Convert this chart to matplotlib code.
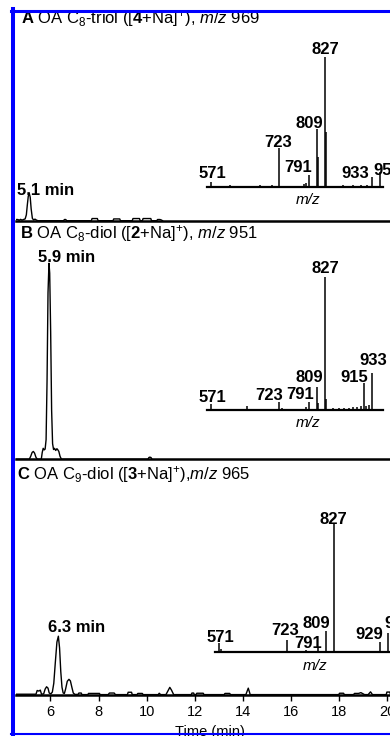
import matplotlib
matplotlib.use("Agg")
import matplotlib.pyplot as plt
from matplotlib.lines import Line2D

plt.rcParams['font.family'] = ['Liberation Sans', 'DejaVu Sans']
plt.rcParams['mathtext.fontset'] = 'custom'
plt.rcParams['mathtext.rm'] = 'Liberation Sans'
plt.rcParams['mathtext.it'] = 'Liberation Sans:italic'
plt.rcParams['mathtext.bf'] = 'Liberation Sans:bold'

# ── chromatograms (time in min, intensity relative to panel B peak = 100) ──
a_time = [4.57, 4.65, 4.70, 4.76, 4.82, 4.88, 4.95, 5.00, 5.04, 5.08, 5.12, 5.16, 5.20, 5.25,
          5.30, 5.36, 5.42, 5.48, 6.55, 6.58, 6.64, 6.67, 7.70, 7.73, 7.95, 7.98, 8.60, 8.63,
          8.88, 8.91, 9.40, 9.43, 9.70, 9.73, 9.82, 9.85, 10.17, 10.20, 10.42, 10.45, 10.55,
          10.60, 10.66]
a_int = [0.6, 0.6, 0.2, 0.7, 0.3, 0.6, 0.9, 3.0, 8.0, 12.5, 14.0, 12.0, 6.0, 1.2,
         0.4, 0.8, 0.3, 0.0, 0.0, 0.6, 0.6, 0.0, 0.0, 1.1, 1.1, 0.0, 0.0, 0.9,
         0.9, 0.0, 0.0, 1.1, 1.1, 0.0, 0.0, 1.1, 1.1, 0.0, 0.0, 0.6, 0.6,
         0.4, 0.0]

b_time = [4.57, 5.12, 5.18, 5.24, 5.29, 5.34, 5.40, 5.46, 5.62, 5.66, 5.70, 5.74, 5.78, 5.82,
          5.86, 5.90, 5.94, 5.97, 6.01, 6.05, 6.09, 6.13, 6.17, 6.22, 6.27, 6.31, 6.35, 6.40,
          6.46, 10.05, 10.09, 10.13, 10.18, 10.22]
b_int = [0, 0, 1.5, 3.5, 4.0, 3.2, 1.0, 0, 0, 3.5, 5.6, 4.8, 5.2, 10,
         40, 85, 100, 95, 65, 25, 8, 5.0, 5.6, 4.5, 5.4, 4.8, 4.0, 1.5,
         0, 0, 0.9, 1.1, 0.9, 0]

c_time = [4.57, 5.40, 5.45, 5.52, 5.58, 5.63, 5.72, 5.78, 5.84, 5.90, 5.95, 6.02, 6.08, 6.14,
          6.20, 6.27, 6.33, 6.38, 6.43, 6.48, 6.53, 6.58, 6.63, 6.70, 6.77, 6.83, 6.89, 6.95,
          7.02, 7.15, 7.18, 7.28, 7.31, 7.56, 7.58, 8.04, 8.06, 8.40, 8.45, 8.65, 8.70, 9.20,
          9.23, 9.37, 9.40, 9.60, 9.63, 9.82, 9.85, 10.48, 10.52, 10.58, 10.80, 10.90, 10.96,
          11.03, 11.12, 11.85, 11.88, 11.95, 11.98, 12.05, 12.08, 12.35, 12.38, 13.22, 13.25,
          13.45, 13.48, 14.12, 14.22, 14.30, 17.98, 18.01, 18.18, 18.21, 18.60, 18.63, 18.80,
          18.90, 19.05, 19.20, 19.30, 19.38, 19.95, 19.98, 20.10, 20.13, 20.69]
c_int = [0.4, 0.4, 2.3, 2.0, 2.5, 0.4, 0.6, 3.0, 4.2, 3.5, 1.0, 0.6, 1.5, 6,
         16, 27, 30, 24, 12, 4, 1.0, 0.8, 3, 7, 8, 7.2, 4, 1,
         0.3, 0.3, 1.0, 1.0, 0.2, 0.2, 0.8, 0.8, 0.2, 0.2, 1.0, 1.0, 0.2, 0.2,
         1.4, 1.4, 0.2, 0.2, 0.8, 0.8, 0.2, 0.2, 0.9, 0.2, 0.2, 2.5, 3.9,
         2.5, 0.2, 0.2, 1.0, 1.0, 0.2, 0.2, 0.9, 0.9, 0.2, 0.2, 0.8,
         0.8, 0.2, 0.2, 3.5, 0.2, 0.2, 0.9, 0.9, 0.2, 0.2, 0.8, 0.8,
         1.2, 0.2, 0.2, 1.6, 0.2, 0.2, 1.5, 1.5, 0.2, 0.2]

# ── MS/MS spectra (m/z, relative intensity %) ──
a_mz = [571, 614, 681, 707, 723, 780, 785, 791, 809, 812, 827, 829, 867, 890, 909, 921, 933, 951]
a_rel = [4, 1.5, 1.5, 1.5, 30, 2, 3, 9, 45, 23, 100, 42, 1.5, 1.5, 1.5, 1.5, 8, 11.5]
a_labels = [571, 723, 791, 809, 827, 933, 951]

b_mz = [571, 600, 625, 651, 700, 723, 730, 785, 791, 809, 812, 827, 829, 845, 858, 870,
        880, 890, 900, 908, 915, 920, 927, 933]
b_rel = [4.5, 1, 1, 3, 1, 6, 1.5, 2, 6, 17, 5, 100, 8, 1.5, 1.5, 1.5,
         1.5, 2, 2, 3, 20, 3, 4, 28]
b_labels = [571, 723, 791, 809, 827, 915, 933]

c_mz = [571, 574, 723, 765, 791, 809, 827, 929, 947]
c_rel = [7, 2, 9.4, 1.5, 3, 16.4, 100, 7.8, 15]
c_labels = [571, 723, 791, 809, 827, 929, 947]

titles = [r'$\mathbf{A}$ OA C$_8$-triol ([$\mathbf{4}$+Na]$^{+}$), $\mathit{m/z}$ 969',
          r'$\mathbf{B}$ OA C$_8$-diol ([$\mathbf{2}$+Na]$^{+}$), $\mathit{m/z}$ 951',
          r'$\mathbf{C}$ OA C$_9$-diol ([$\mathbf{3}$+Na]$^{+}$),$\mathit{m/z}$ 965']
rt_labels = ['5.1 min', '5.9 min', '6.3 min']
time_ticks = [6, 8, 10, 12, 14, 16, 18, 20]

# ── layout (pixels) ──
W, H = 390, 736
fig = plt.figure(figsize=(W / 100, H / 100), dpi=100)


def px_axes(left, top, right, bottom):
    return fig.add_axes([left / W, 1 - bottom / H, (right - left) / W, (bottom - top) / H])


chrom_boxes = [(16, 25, 404, 220.7), (16, 240, 404, 459.3), (16, 480, 404, 695)]
chrom_data = [(a_time, a_int), (b_time, b_int), (c_time, c_int)]
chrom_px_per_unit = 1.96
title_pos = [(21, 23), (20, 238), (17, 479)]
rt_text_pos = [(46, 195), (66.5, 262), (76.5, 632)]

spec_boxes = [(207, 40, 383, 187), (207, 260, 383, 410), (215, 505, 400, 651.7)]
spec_xlim = [(562, 957.5), (562, 957.5), (561.4, 974)]
spec_px_per_pct = [1.30, 1.33, 1.28]
spec_data = [(a_mz, a_rel, a_labels), (b_mz, b_rel, b_labels), (c_mz, c_rel, c_labels)]
label_offsets = [
    {571: (1.5, 4), 723: (-1, 1), 791: (-11, 3), 809: (-8, 1), 827: (0, 3), 933: (-17, -1), 951: (7, -3)},
    {571: (1, 2), 723: (-10, 2), 791: (-9, 3), 809: (-8, 5), 827: (0, 4), 915: (-10, 1), 933: (1, 8)},
    {571: (1, 1), 723: (-2, 5), 791: (-10, 0), 809: (-10, 3), 827: (-1, 0), 929: (-11, 3), 947: (10, 4)},
]
mz_label_x = [0.574, 0.574, 0.54]
mz_label_dy = [13, 12.7, 14]

bold = dict(fontsize=12, fontweight='bold')

for i in range(3):
    l, t, r, b = chrom_boxes[i]
    ax = px_axes(l, t, r, b)
    ax.set_facecolor('none')
    tt, yy = chrom_data[i]
    ax.plot(tt, yy, color='black', lw=1.0)
    ax.set_xlim(4.57, 20.69)
    ax.set_ylim(0, (b - t) / chrom_px_per_unit)
    for s in ['top', 'right', 'left']:
        ax.spines[s].set_visible(False)
    ax.spines['bottom'].set_linewidth(1.8)
    ax.set_yticks([])
    if i == 2:
        ax.set_xticks(time_ticks)
        ax.tick_params(axis='x', direction='out', length=4, width=1, pad=3, labelsize=10.5)
        ax.set_xlabel('Time (min)', fontsize=10.5, labelpad=4.5)
    else:
        ax.set_xticks([])
    tx, ty = rt_text_pos[i]
    fig.text(tx / W, 1 - ty / H, rt_labels[i], ha='center', va='baseline', **bold)
    px, py = title_pos[i]
    fig.text(px / W, 1 - py / H, titles[i], ha='left', va='baseline', fontsize=12)

for i in range(3):
    l, t, r, b = spec_boxes[i]
    ax = px_axes(l, t, r, b)
    ax.set_facecolor('none')
    mz, rel, labs = spec_data[i]
    ax.vlines(mz, 0, rel, color='black', lw=1.1)
    ax.set_xlim(*spec_xlim[i])
    ax.set_ylim(0, (b - t) / spec_px_per_pct[i])
    for s in ['top', 'right', 'left']:
        ax.spines[s].set_visible(False)
    ax.spines['bottom'].set_linewidth(1.6)
    ax.set_xticks([])
    ax.set_yticks([])
    for m in labs:
        dx, dy = label_offsets[i][m]
        ax.annotate(str(m), xy=(m, rel[mz.index(m)]), xytext=(dx, dy), textcoords='offset pixels',
                    ha='center', va='baseline', annotation_clip=False, **bold)
    ax.text(mz_label_x[i], -mz_label_dy[i] / (b - t), 'm/z', transform=ax.transAxes,
            ha='center', va='center', fontsize=11, style='italic')

# blue selection frame
blue = '#0000ff'
fig.add_artist(Line2D([13 / W, 13 / W], [1 - 9 / H, 1 - 735 / H], color=blue, lw=2.9, zorder=10))
fig.add_artist(Line2D([11 / W, 1.0], [1 - 10.5 / H, 1 - 10.5 / H], color=blue, lw=2.2, zorder=10))
fig.add_artist(Line2D([11 / W, 1.0], [1 - 734 / H, 1 - 734 / H], color=blue, lw=1.5, zorder=10))

fig.savefig('out.png', dpi=100)
